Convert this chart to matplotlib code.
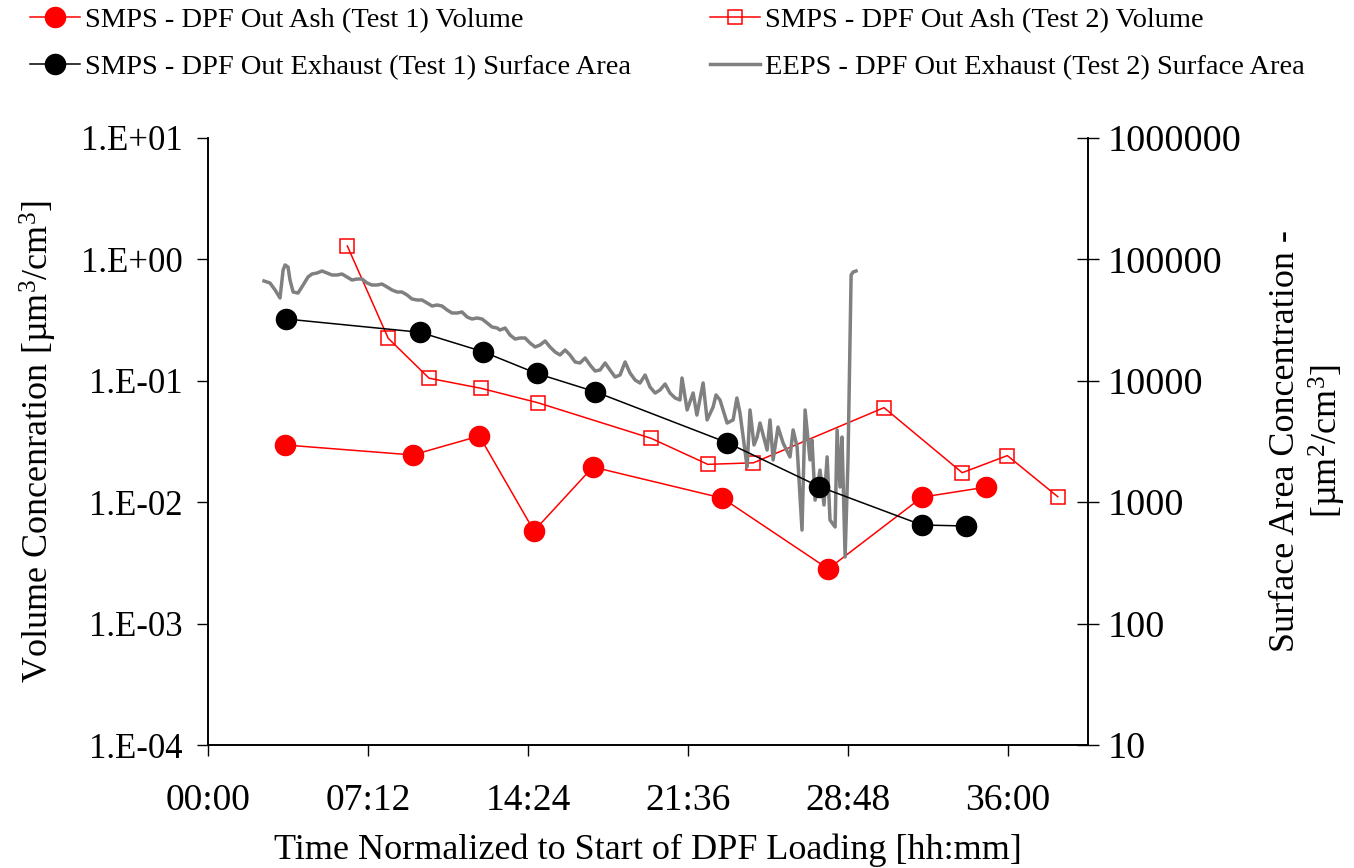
import numpy as np
import matplotlib
matplotlib.use('Agg')
import matplotlib.pyplot as plt
from matplotlib.ticker import FixedLocator, FuncFormatter, NullLocator

plt.rcParams['font.family'] = ['Liberation Serif', 'DejaVu Serif']
plt.rcParams['mathtext.fontset'] = 'custom'
plt.rcParams['mathtext.rm'] = 'Liberation Serif'
plt.rcParams['mathtext.it'] = 'Liberation Serif:italic'

# 时间单位：小时
# SMPS - DPF Out Ash (Test 1) Volume
ash1_t = [3.47, 9.21, 12.21, 14.67, 17.32, 23.15, 27.91, 32.13, 35.00]
ash1_v = [0.0296, 0.0245, 0.0351, 0.0058, 0.0195, 0.0108, 0.00282, 0.0110, 0.0133]

# SMPS - DPF Out Ash (Test 2) Volume
ash2_t = [6.27, 8.11, 9.95, 12.29, 14.84, 19.94, 22.49, 24.54, 30.42, 33.94, 35.97, 38.24]
ash2_v = [1.29, 0.224, 0.105, 0.0867, 0.066, 0.0336, 0.0205, 0.0211, 0.0601, 0.0175, 0.0242, 0.0111]

# SMPS - DPF Out Exhaust (Test 1) Surface Area
sa1_t = [3.51, 9.54, 12.36, 14.79, 17.42, 23.37, 27.51, 32.12, 34.10]
sa1_v = [32300, 25100, 17400, 11500, 8130, 3090, 1343, 649, 637]

# EEPS - DPF Out Exhaust (Test 2) Surface Area
eeps_t = [2.52, 2.79, 3.02, 3.24, 3.38, 3.47, 3.60, 3.69, 3.83, 4.05, 4.28, 4.50,
          4.68, 4.91, 5.13, 5.36, 5.58, 5.81, 6.03, 6.26, 6.48, 6.71, 6.93, 7.16,
          7.38, 7.61, 7.83, 8.06, 8.28, 8.51, 8.73, 8.96, 9.18, 9.41, 9.63, 9.86,
          10.08, 10.31, 10.53, 10.76, 10.98, 11.21, 11.43, 11.66, 11.88, 12.11, 12.33,
          12.56, 12.78, 13.01, 13.14, 13.37, 13.59, 13.82, 14.04, 14.27, 14.49, 14.72,
          14.94, 15.17, 15.39, 15.62, 15.84, 16.07, 16.29, 16.52, 16.74, 16.97, 17.19,
          17.42, 17.64, 17.87, 18.09, 18.32, 18.54, 18.77, 18.99, 19.22, 19.44, 19.67,
          19.89, 20.12, 20.34, 20.57, 20.79, 21.02, 21.24, 21.33, 21.56, 21.83, 22.00,
          22.28, 22.46, 22.73, 22.86, 23.04, 23.36, 23.63, 23.80, 23.94, 24.26, 24.39,
          24.57, 24.71, 24.84, 25.16, 25.29, 25.43, 25.65, 25.88, 26.19, 26.33, 26.51,
          26.73, 26.87, 27.09, 27.18, 27.32, 27.54, 27.72, 27.86, 27.99, 28.22, 28.31,
          28.44, 28.53, 28.67, 28.80, 28.94, 29.03, 29.16]
eeps_v = [66400, 63900, 55970, 48100, 81800, 90000, 86500, 67650, 53880, 52800, 61520, 71610,
          75810, 77270, 80260, 77270, 74380, 74380, 75810, 71610, 67650, 68950, 68950, 63900,
          61520, 61520, 62700, 59240, 55970, 53880, 53880, 50900, 47190, 46300, 46300, 43740,
          41320, 42110, 41320, 38310, 36180, 36180, 36880, 33540, 32290, 32910, 32290,
          29940, 27750, 27220, 26200, 27220, 23840, 22090, 22520, 22520, 20490, 18990,
          19720, 21280, 18990, 17270, 16320, 17940, 16320, 14290, 14020, 15410, 13500,
          12040, 12270, 14020, 12270, 10750, 11160, 14290, 11600, 10150, 9590, 11160,
          8890, 7930, 8400, 9410, 7930, 7220, 6950, 10550, 5750, 7940, 5220,
          9600, 4760, 6080, 7640, 6950, 4490, 4760, 7220, 5430, 1950, 5750,
          2960, 3440, 4490, 2690, 4760, 2230, 4160, 3070, 2360, 3940, 2850,
          590, 5750, 2230, 3250, 1040, 1840, 948, 2360, 713, 625, 3940,
          1335, 3440, 354, 2230, 74300, 78700, 80200]

x_ticks = [0, 7.2, 14.4, 21.6, 28.8, 36.0]
left_ticks = [1e-4, 1e-3, 1e-2, 1e-1, 1e0, 1e1]
left_labels = ['1.E-04', '1.E-03', '1.E-02', '1.E-01', '1.E+00', '1.E+01']
right_ticks = [10, 100, 1000, 10000, 100000, 1000000]
right_labels = ['10', '100', '1000', '10000', '100000', '1000000']

fig = plt.figure(figsize=(13.54, 8.68), dpi=100)
ax = fig.add_axes([208 / 1354, 1 - 745 / 868, 880 / 1354, 607 / 868])
ax2 = ax.twinx()

l1, = ax.plot(ash1_t, ash1_v, color='red', lw=1.1, marker='o', ms=14.5,
              mfc='red', mec='red', label='SMPS - DPF Out Ash (Test 1) Volume')
l2, = ax.plot(ash2_t, ash2_v, color='red', lw=1.1, marker='s', ms=10,
              mfc='none', mec='red', mew=1.1, label='SMPS - DPF Out Ash (Test 2) Volume')
l4, = ax2.plot(eeps_t, eeps_v, color='#808080', lw=2.5,
               label='EEPS - DPF Out Exhaust (Test 2) Surface Area')
l3, = ax2.plot(sa1_t, sa1_v, color='black', lw=1.1, marker='o', ms=14.5,
               mfc='black', mec='black', label='SMPS - DPF Out Exhaust (Test 1) Surface Area')

ax.set_yscale('log')
ax2.set_yscale('log')
ax.set_xlim(0, 39.6)
ax.set_ylim(1e-4, 1e1)
ax2.set_ylim(10, 1e6)

ax.xaxis.set_major_locator(FixedLocator(x_ticks))
ax.xaxis.set_major_formatter(FuncFormatter(
    lambda v, p: '%02d:%02d' % (int(round(v * 60)) // 60, int(round(v * 60)) % 60)))
ax.yaxis.set_major_locator(FixedLocator(left_ticks))
ax.yaxis.set_minor_locator(NullLocator())
ax.set_yticklabels(left_labels)
ax2.yaxis.set_major_locator(FixedLocator(right_ticks))
ax2.yaxis.set_minor_locator(NullLocator())
ax2.set_yticklabels(right_labels)

ax.spines['top'].set_visible(False)
ax2.spines['top'].set_visible(False)
for a in (ax, ax2):
    for s in a.spines.values():
        s.set_linewidth(1.2)

ax.tick_params(axis='x', direction='out', length=8, width=1.0, labelsize=27, pad=20)
ax.tick_params(axis='y', direction='out', length=8, width=1.0, labelsize=25, pad=10)
ax2.tick_params(axis='y', direction='inout', length=16, width=1.0, labelsize=27.5, pad=6)

ax.set_xlabel('Time Normalized to Start of DPF Loading [hh:mm]', fontsize=26, labelpad=11)
ax.set_ylabel('Volume Concenration [µm$^3$/cm$^3$]', fontsize=26, labelpad=16)
ax2.set_ylabel('Surface Area Concentration -\n[µm$^2$/cm$^3$]', fontsize=26,
               labelpad=20, linespacing=1.15)

fig.legend(handles=[l1, l3, l2, l4], loc='upper left', bbox_to_anchor=(30 / 1354, 0.992),
           ncol=2, frameon=False, fontsize=20.5, handlelength=1.75, handletextpad=0.18,
           columnspacing=2.78, labelspacing=0.76, borderpad=0, borderaxespad=0)

fig.savefig('out.png', dpi=100)
